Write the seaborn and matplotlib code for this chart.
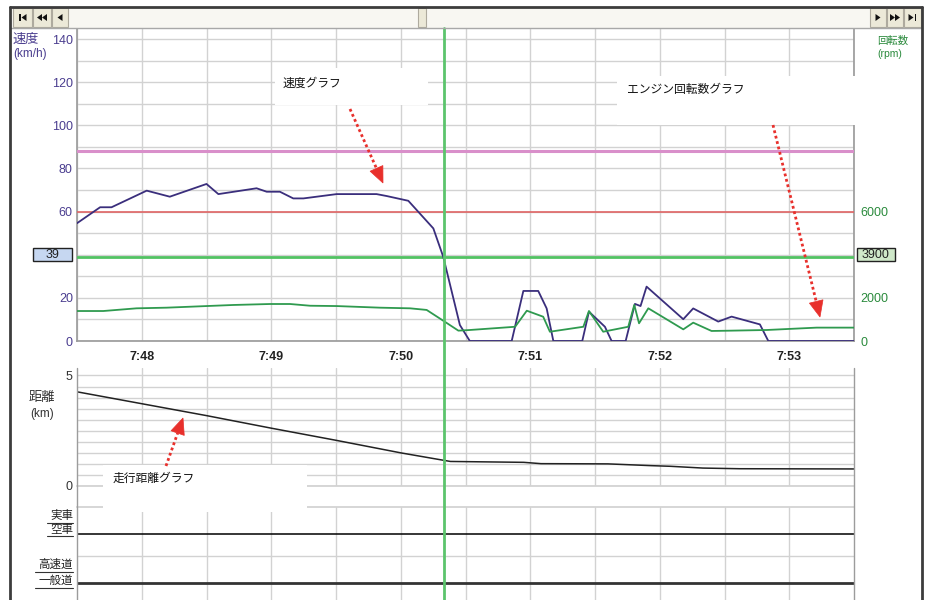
import matplotlib
matplotlib.use("Agg")
import math
import numpy as np
import matplotlib.pyplot as plt
import matplotlib.transforms as mtransforms
import seaborn as sns
from matplotlib.patches import Rectangle, Polygon
from matplotlib.lines import Line2D

# ---------------- data (time = seconds after 7:47:30) ----------------
speed_time = [0, 10.7, 16, 32.3, 43, 60, 65.5, 83.2, 87.9, 94, 100.2, 104.9, 120.3,
              138.8, 143.5, 153.5, 157.4, 165.1, 169.7, 177.4, 182, 201.4, 206.8,
              213.7, 217.6, 220.7, 234.1, 237.2, 244.6, 247.7, 254.2, 258.5, 261.1,
              263.9, 280.9, 285.5, 297.1, 303.3, 316.4, 320.3, 360]
speed_kmh = [54.6, 62, 62, 69.7, 66.9, 72.8, 68.1, 70.8, 69.2, 69.2, 66.1, 66.1, 68.1,
             68.1, 67.2, 65, 60.7, 52.2, 39, 7.4, 0, 0, 23.2,
             23.2, 15.1, 0, 0, 13.6, 6.6, 0, 0, 17.2, 16.2,
             25.2, 10.1, 15.1, 9, 11.3, 7.7, 0, 0]

rpm_time = [0, 12.2, 27.6, 41.5, 60, 72.4, 89.4, 98.7, 108, 120.3, 140.4, 154.3, 162,
            169.7, 176.7, 182, 203, 208.4, 216, 219.1, 234.6, 237.2, 243.8, 255.4,
            258.2, 260.4, 264.7, 280.9, 285.5, 294, 303.3, 319.5, 342.7, 360]
engine_rpm = [1390, 1390, 1515, 1545, 1620, 1670, 1715, 1715, 1635, 1620, 1545, 1515, 1440,
              940, 480, 510, 660, 1405, 1125, 430, 660, 1390, 430, 660,
              1670, 820, 1515, 540, 850, 465, 480, 510, 620, 620]

dist_time = [0, 30, 60, 90, 120, 150, 170, 173, 207, 215, 246, 266, 275, 290, 307, 360]
distance_km = [4.26, 3.72, 3.18, 2.61, 2.06, 1.49, 1.15, 1.10, 1.06, 1.00, 0.99, 0.91,
               0.88, 0.80, 0.77, 0.76]

state_time = [0, 360]
loaded_state = [0, 0]    # 0 = 空車, 1 = 実車
highway_state = [0, 0]   # 0 = 一般道, 1 = 高速道

time_ticks = [30, 90, 150, 210, 270, 330]
time_labels = ["7:48", "7:49", "7:50", "7:51", "7:52", "7:53"]
speed_ticks = [0, 20, 60, 80, 100, 120, 140]
rpm_ticks = [0, 2000, 6000]
dist_ticks = [0, 5]
warn_speed_1 = 88
warn_speed_2 = 60
cursor_time = 170
cursor_speed = 39
cursor_rpm = 3900

# ---------------- style ----------------
sns.set_theme(style="white")
plt.rcParams['font.family'] = ['Liberation Sans', 'Noto Sans CJK JP', 'DejaVu Sans']
plt.rcParams['axes.facecolor'] = 'white'

W, H = 926, 600
fig = plt.figure(figsize=(W / 100, H / 100), dpi=100, facecolor='white')

GRID = '#d2d2d2'
SPINE = '#9c9c9c'
PURPLE = '#4a3d8f'
GREEN_T = '#2a8a3c'
RED = '#e8302c'


def fx(x):
    return x / W


def fy(y):
    return 1 - y / H


def px_axes(x0, y0, x1, y1):
    return fig.add_axes([fx(x0), fy(y1), (x1 - x0) / W, (y1 - y0) / H])


def frect(x0, y0, x1, y1, **kw):
    fig.patches.append(Rectangle((fx(x0), fy(y1)), (x1 - x0) / W, (y1 - y0) / H,
                                 transform=fig.transFigure, **kw))


def fline(xs, ys, **kw):
    fig.lines.append(Line2D([fx(x) for x in xs], [fy(y) for y in ys],
                            transform=fig.transFigure, **kw))


def fpoly(pts, **kw):
    fig.patches.append(Polygon([(fx(x), fy(y)) for x, y in pts], closed=True,
                               transform=fig.transFigure, **kw))


def ftext(x, y, s, **kw):
    kw.setdefault('va', 'center')
    fig.text(fx(x), fy(y), s, **kw)


# ---------------- top panel: speed / rpm ----------------
ax1 = px_axes(77, 28, 854, 341)
sns.lineplot(x=speed_time, y=speed_kmh, ax=ax1, color='#3a2e7c', lw=1.3,
             estimator=None, zorder=5)
ax1.axhline(warn_speed_1, color='#d98fca', lw=2.2, zorder=3)
ax1.axhline(warn_speed_2, color='#e06464', lw=1.2, zorder=3)
ax1.axhline(cursor_speed, color='#52c262', lw=2.0, zorder=3)
ax1.set_xlim(0, 360)
ax1.set_ylim(0, 145.1)
ax1.set_xlabel('')
ax1.set_ylabel('')
ax1.set_xticks(time_ticks)
ax1.set_xticklabels(time_labels, fontsize=9, fontweight='bold', color='#222222')
ax1.set_xticks(np.arange(0, 361, 30), minor=True)
ax1.set_yticks(speed_ticks)
ax1.set_yticklabels([str(v) for v in speed_ticks], fontsize=9, color=PURPLE)
ax1.set_yticks(np.arange(0, 141, 10), minor=True)
ax1.grid(which='both', color=GRID, lw=1)
ax1.tick_params(axis='x', which='both', direction='out', length=5, width=1,
                color=SPINE, pad=2)
ax1.tick_params(axis='y', which='both', length=0, pad=3)
ax1.spines['top'].set_visible(False)
for s in ['left', 'right', 'bottom']:
    ax1.spines[s].set_color(SPINE)

ax1r = ax1.twinx()
sns.lineplot(x=rpm_time, y=engine_rpm, ax=ax1r, color='#2f9a4f', lw=1.3,
             estimator=None)
ax1r.set_ylim(0, 14510)
ax1r.set_xlim(0, 360)
ax1r.set_ylabel('')
ax1r.set_yticks(rpm_ticks)
ax1r.set_yticklabels([str(v) for v in rpm_ticks], fontsize=9, color=GREEN_T)
ax1r.tick_params(axis='y', length=0, pad=4.5)
ax1r.grid(False)
for s in ax1r.spines.values():
    s.set_visible(False)

# ---------------- middle panel: distance ----------------
ax2 = px_axes(77, 368, 854, 485.7)
sns.lineplot(x=dist_time, y=distance_km, ax=ax2, color='#222222', lw=1.1,
             estimator=None, zorder=5)
ax2.set_xlim(0, 360)
ax2.set_ylim(0, 5.34)
ax2.set_xlabel('')
ax2.set_ylabel('')
ax2.set_xticks(np.arange(30, 331, 30))
ax2.set_xticklabels([])
ax2.set_yticks(dist_ticks)
ax2.set_yticklabels([str(v) for v in dist_ticks], fontsize=9, color='#333333')
ax2.set_yticks(np.arange(0.5, 5.01, 0.5), minor=True)
ax2.grid(which='both', color=GRID, lw=1)
ax2.tick_params(which='both', length=0, pad=3)
for s in ['top', 'left', 'right']:
    ax2.spines[s].set_visible(False)
ax2.spines['bottom'].set_color(GRID)

# ---------------- bottom panel: states ----------------
ax3 = px_axes(77, 507, 854, 600)
loaded_y = [1 + 0.437 + 0.35 * s for s in loaded_state]
road_y = [0.437 + 0.35 * s for s in highway_state]
sns.lineplot(x=state_time, y=loaded_y, ax=ax3, color='black', lw=1.1,
             estimator=None, drawstyle='steps-post', zorder=5)
sns.lineplot(x=state_time, y=road_y, ax=ax3, color='#333333', lw=2.0,
             estimator=None, drawstyle='steps-post', zorder=5)
ax3.set_xlim(0, 360)
ax3.set_ylim(0.096, 2.0)
ax3.set_xlabel('')
ax3.set_ylabel('')
ax3.set_xticks(np.arange(30, 331, 30))
ax3.set_xticklabels([])
ax3.set_yticks([1.0])
ax3.set_yticklabels([])
ax3.grid(which='both', color=GRID, lw=1)
ax3.tick_params(which='both', length=0)
for s in ['bottom', 'left', 'right']:
    ax3.spines[s].set_visible(False)
ax3.spines['top'].set_color(GRID)

# spines continuous across lower panels
fline([77, 77], [368, 600], color=SPINE, lw=1, zorder=0.5)
fline([854, 854], [368, 600], color=SPINE, lw=1, zorder=0.5)

# cursor line through all panels
blend = mtransforms.blended_transform_factory(ax1.transData, fig.transFigure)
fig.lines.append(Line2D([cursor_time, cursor_time], [fy(600), fy(28)],
                        transform=blend, color='#5cc46c', lw=2.0, zorder=2))

# ---------------- scrollbar and frame ----------------
frect(10, 7, 922, 28, facecolor='#f8f7f2', edgecolor='none', zorder=1)
for (a, b) in [(13, 32), (33, 51), (52, 68), (870, 886), (887, 903), (904, 921)]:
    frect(a, 8.5, b, 26.5, facecolor='#ece9d8', edgecolor='#aeaa9e', lw=0.8, zorder=1.5)
frect(418, 8.5, 426, 26.5, facecolor='#ece9d8', edgecolor='#aeaa9e', lw=0.8, zorder=1.5)


def tri(xc, yc, d):
    fpoly([(xc + d * 2.5, yc), (xc - d * 2.5, yc - 3.5), (xc - d * 2.5, yc + 3.5)],
          facecolor='#111111', edgecolor='none', zorder=2)


frect(19, 14, 20.6, 21, facecolor='#111111', edgecolor='none', zorder=2)
tri(24, 17.5, -1)
tri(39.5, 17.5, -1)
tri(44.5, 17.5, -1)
tri(60, 17.5, -1)
tri(878, 17.5, 1)
tri(892.5, 17.5, 1)
tri(897.5, 17.5, 1)
tri(911, 17.5, 1)
frect(914.5, 14, 916.1, 21, facecolor='#111111', edgecolor='none', zorder=2)

fline([10, 922], [28, 28], color='#a8a8a8', lw=1, zorder=2)
fline([10, 10], [7, 600], color='#3c3c3c', lw=2, zorder=2)
fline([10, 922], [7, 7], color='#3c3c3c', lw=2, zorder=2)
fline([922, 922], [7, 600], color='#3c3c3c', lw=2, zorder=2)

# ---------------- axis titles ----------------
ftext(13, 40, "速度", color=PURPLE, fontsize=9.5)
ftext(13, 54, "(km/h)", color=PURPLE, fontsize=8.5)
ftext(877, 41, "回転数", color=GREEN_T, fontsize=7.5)
ftext(877, 54, "(rpm)", color=GREEN_T, fontsize=7.5)
ftext(29, 397.5, "距離", color='#333333', fontsize=9.5)
ftext(30, 414, "(km)", color='#333333', fontsize=8.5)

ftext(73, 516.2, "実車", ha='right', fontsize=8.3, color='#222222')
ftext(73, 529.6, "空車", ha='right', fontsize=8.3, color='#222222')
ftext(73, 564.6, "高速道", ha='right', fontsize=8.3, color='#222222')
ftext(73, 581.0, "一般道", ha='right', fontsize=8.3, color='#222222')
fline([47, 73], [523, 523], color='#333333', lw=0.8, zorder=2)
fline([47, 73], [535.5, 535.5], color='#333333', lw=0.8, zorder=2)
fline([35, 73], [571.5, 571.5], color='#333333', lw=0.8, zorder=2)
fline([35, 73], [588, 588], color='#333333', lw=0.8, zorder=2)

# cursor value boxes
frect(33, 248, 72, 261, facecolor='#c6d7f1', edgecolor='#222222', lw=1, zorder=3)
ftext(52.5, 254.8, str(cursor_speed), ha='center', fontsize=9, color='#222222', zorder=4)
frect(857, 248, 895, 261, facecolor='#cfe8c9', edgecolor='#222222', lw=1, zorder=3)
ftext(876, 254.8, str(cursor_rpm), ha='center', fontsize=9, color='#222222', zorder=4)

# ---------------- callout boxes ----------------
frect(275, 68, 428, 105, facecolor='white', edgecolor='none', zorder=1)
frect(617, 76, 860, 125, facecolor='white', edgecolor='none', zorder=1)
frect(103, 465, 307, 512, facecolor='white', edgecolor='none', zorder=1)
ftext(283, 84, "速度グラフ", fontsize=8.5, color='#111111', zorder=4)
ftext(627, 90, "エンジン回転数グラフ", fontsize=8.5, color='#111111', zorder=4)
ftext(113, 479, "走行距離グラフ", fontsize=8.5, color='#111111', zorder=4)


def red_arrow(x0, y0, x1, y1):
    dx, dy = x1 - x0, y1 - y0
    L = math.hypot(dx, dy)
    ux, uy = dx / L, dy / L
    nx, ny = -uy, ux
    hl, hw = 16, 7
    bx, by = x1 - hl * ux, y1 - hl * uy
    fline([x0, bx], [y0, by], color=RED, lw=2.0, linestyle=(0, (1, 1)),
          dash_capstyle='butt', zorder=5)
    fpoly([(x1, y1), (bx + hw * nx, by + hw * ny), (bx - hw * nx, by - hw * ny)],
          facecolor=RED, edgecolor=RED, lw=0.5, zorder=5)


red_arrow(350, 109, 383, 183)
red_arrow(773, 125, 820, 317)
red_arrow(166, 466, 183, 418)

fig.savefig("out.png", dpi=100, facecolor='white')
